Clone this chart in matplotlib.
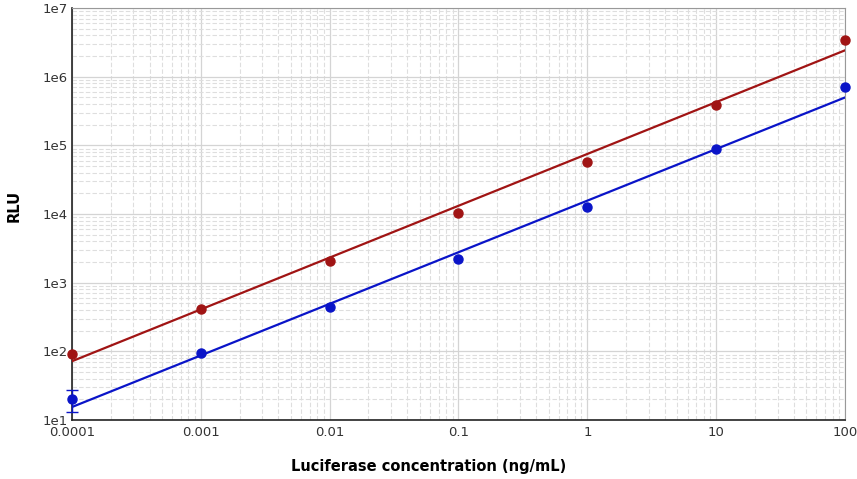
import matplotlib
matplotlib.use("Agg")
import matplotlib.pyplot as plt
from matplotlib.ticker import FixedLocator, FixedFormatter, LogLocator, NullFormatter

# concentrations (ng/mL)
conc = [1e-4, 1e-3, 1e-2, 1e-1, 1, 10, 100]
x_labels = ["0.0001", "0.001", "0.01", "0.1", "1", "10", "100"]

# measured RLU
rlu_red = [91, 413, 2060, 10300, 56900, 385000, 3.4e6]
rlu_blue = [20.2, 94, 441, 2210, 12600, 88100, 703000]
# error bar only visible on the lowest blue point
err_x = [1e-4]
err_y = [20.2]
err_low = [7.1]
err_high = [7.2]

# fit lines (ends)
fit_x = [1e-4, 100]
fit_red = [72, 2.43e6]
fit_blue = [15.5, 5.0e5]

y_ticks = [1e1, 1e2, 1e3, 1e4, 1e5, 1e6, 1e7]
y_labels = ["1e1", "1e2", "1e3", "1e4", "1e5", "1e6", "1e7"]

red = "#a01414"
blue = "#0a14c8"

fig = plt.figure(figsize=(8.57, 4.79), dpi=100)
ax = fig.add_axes([0.084, 0.123, 0.902, 0.860])

ax.set_xscale("log")
ax.set_yscale("log")
ax.set_xlim(1e-4, 100)
ax.set_ylim(10, 1e7)

# grille
ax.grid(True, which="major", color="#d4d4d4", linewidth=0.9, linestyle="-")
ax.grid(True, which="minor", color="#dedede", linewidth=0.8, linestyle=(0, (4, 2)))
ax.set_axisbelow(True)

ax.plot(fit_x, fit_red, color=red, linewidth=1.6, zorder=3)
ax.plot(fit_x, fit_blue, color=blue, linewidth=1.6, zorder=3)

ax.errorbar(err_x, err_y, yerr=[err_low, err_high], fmt="none", ecolor=blue,
            elinewidth=1, capsize=4, zorder=3, clip_on=False)
ax.plot(conc, rlu_red, "o", color=red, markersize=6.5, zorder=4, clip_on=False)
ax.plot(conc, rlu_blue, "o", color=blue, markersize=6.5, zorder=4, clip_on=False)

ax.xaxis.set_major_locator(FixedLocator(conc))
ax.xaxis.set_major_formatter(FixedFormatter(x_labels))
ax.xaxis.set_minor_locator(LogLocator(base=10, subs=range(2, 10)))
ax.xaxis.set_minor_formatter(NullFormatter())
ax.yaxis.set_major_locator(FixedLocator(y_ticks))
ax.yaxis.set_major_formatter(FixedFormatter(y_labels))
ax.yaxis.set_minor_locator(LogLocator(base=10, subs=range(2, 10)))
ax.yaxis.set_minor_formatter(NullFormatter())

ax.tick_params(which="both", length=0, labelsize=9.5, colors="#333333")
ax.tick_params(axis="x", pad=4)
ax.tick_params(axis="y", pad=3)

for s in ["top", "right"]:
    ax.spines[s].set_color("#999999")
for s in ["left", "bottom"]:
    ax.spines[s].set_color("#222222")
    ax.spines[s].set_linewidth(1.2)

fig.text(0.017, 0.57, "RLU", rotation=90, fontsize=10.5, fontweight="bold",
         ha="center", va="center")
fig.text(0.5, 0.027, "Luciferase concentration (ng/mL)", fontsize=10.5,
         fontweight="bold", ha="center", va="center")

fig.savefig("out.png", dpi=100)
